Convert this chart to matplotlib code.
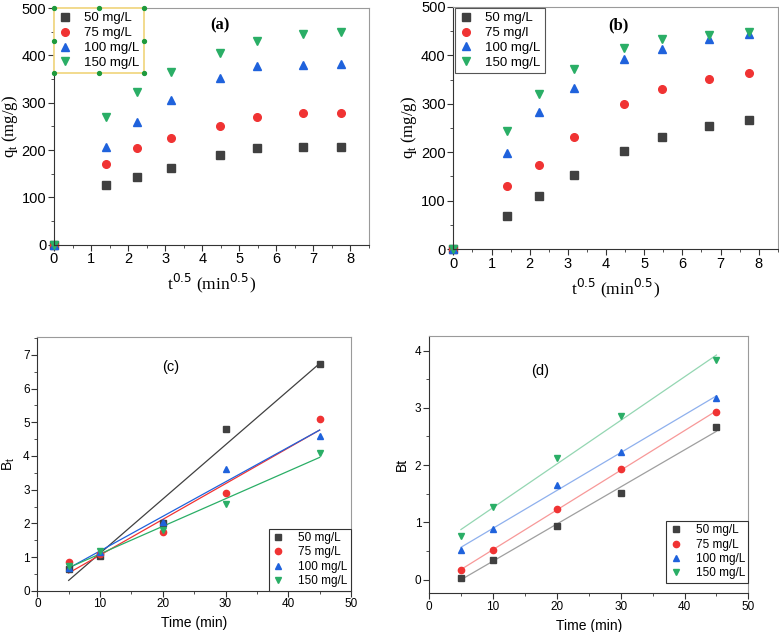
import numpy as np
import matplotlib
matplotlib.use('Agg')
from matplotlib import pyplot as plt
from matplotlib.ticker import MultipleLocator

plt.rcParams['font.family'] = ['Liberation Sans', 'DejaVu Sans']

labels = ['50 mg/L', '75 mg/L', '100 mg/L', '150 mg/L']
labels_b = ['50 mg/L', '75 mg/l', '100 mg/L', '150 mg/L']
colors = ['#404040', '#f03333', '#1f62dc', '#2aae66']
markers = ['s', 'o', '^', 'v']

# (a), (b): intraparticle diffusion, x = t^0.5
sqrt_t = [0, 1.414, 2.236, 3.162, 4.472, 5.477, 6.708, 7.746]
qa_50 = [0, 125, 143, 161, 190, 205, 206, 207]
qa_75 = [0, 171, 205, 225, 250, 270, 278, 279]
qa_100 = [0, 206, 260, 306, 353, 377, 380, 383]
qa_150 = [0, 270, 323, 366, 405, 430, 445, 450]

qb_50 = [0, 69, 110, 152, 203, 231, 255, 266]
qb_75 = [0, 131, 174, 231, 299, 331, 352, 363]
qb_100 = [0, 198, 282, 332, 393, 414, 433, 445]
qb_150 = [0, 244, 321, 371, 416, 433, 442, 448]

# (c), (d): Boyd plot, Bt vs time
time_min = [5, 10, 20, 30, 45]
bc_50 = [0.65, 1.04, 2.0, 4.79, 6.74]
bc_75 = [0.84, 1.10, 1.73, 2.89, 5.09]
bc_100 = [0.66, 1.15, 2.04, 3.61, 4.60]
bc_150 = [0.74, 1.18, 1.80, 2.57, 4.09]

bd_50 = [0.035, 0.34, 0.94, 1.52, 2.66]
bd_75 = [0.16, 0.52, 1.23, 1.93, 2.93]
bd_100 = [0.51, 0.88, 1.66, 2.22, 3.17]
bd_150 = [0.77, 1.26, 2.13, 2.86, 3.83]

fig = plt.figure(figsize=(7.79, 6.32), dpi=100)
ax_a = fig.add_axes([0.0693, 0.613, 0.4044, 0.374])
ax_b = fig.add_axes([0.582, 0.606, 0.4164, 0.383])
ax_c = fig.add_axes([0.0479, 0.0653, 0.4027, 0.4019])
ax_d = fig.add_axes([0.5507, 0.0612, 0.41, 0.4076])


def style_axes(ax, tick_size):
    for side in ['top', 'right']:
        ax.spines[side].set_color('#9a9a9a')
    for side in ['left', 'bottom']:
        ax.spines[side].set_color('#333333')
    ax.tick_params(which='both', direction='out', top=False, right=False,
                   labelsize=tick_size, color='#333333', pad=1.5)
    ax.tick_params(which='major', length=4)
    ax.tick_params(which='minor', length=2.5)


# top panels
for ax, series, labs, tag, tag_pos in [
        (ax_a, [qa_50, qa_75, qa_100, qa_150], labels, '(a)', (0.527, 0.928)),
        (ax_b, [qb_50, qb_75, qb_100, qb_150], labels_b, '(b)', (0.509, 0.925))]:
    for q, c, m, lab in zip(series, colors, markers, labs):
        ax.plot(sqrt_t, q, m, color=c, markersize=5.5, linestyle='none', label=lab,
                clip_on=False)
    ax.set_xlim(0, 8.5)
    ax.set_ylim(0, 500)
    ax.xaxis.set_major_locator(MultipleLocator(1))
    ax.xaxis.set_minor_locator(MultipleLocator(0.5))
    ax.yaxis.set_major_locator(MultipleLocator(100))
    ax.yaxis.set_minor_locator(MultipleLocator(50))
    style_axes(ax, 10.5)
    ax.set_xlabel('t$^{0.5}$ (min$^{0.5}$)', family='Liberation Serif', fontsize=12.5)
    ax.set_ylabel('q$_{\\mathregular{t}}$ (mg/g)', family='Liberation Serif', fontsize=12,
                  labelpad=1.5)
    ax.text(tag_pos[0], tag_pos[1], tag, transform=ax.transAxes, ha='center', va='center',
            family='Liberation Serif', fontweight='bold', fontsize=12)

leg_a = ax_a.legend(loc='upper left', bbox_to_anchor=(0, 1), borderaxespad=0,
                    fontsize=9.5, handlelength=1, handletextpad=1.0, labelspacing=0.2,
                    fancybox=False, edgecolor='#f0d47a', framealpha=1, borderpad=0.3)
leg_a.get_frame().set_linewidth(1.2)
leg_b = ax_b.legend(loc='upper left', bbox_to_anchor=(0.005, 0.995), borderaxespad=0,
                    fontsize=9.5, handlelength=1, handletextpad=1.0, labelspacing=0.2,
                    fancybox=False, edgecolor='#555555', framealpha=1, borderpad=0.3)
leg_b.get_frame().set_linewidth(0.8)

# bottom panels
for ax, series, line_alpha, ylab, tag, tag_pos in [
        (ax_c, [bc_50, bc_75, bc_100, bc_150], 1.0, 'B$_{\\mathregular{t}}$', '(c)', (0.426, 0.88)),
        (ax_d, [bd_50, bd_75, bd_100, bd_150], 0.5, 'Bt', '(d)', (0.348, 0.864))]:
    for b, c, m, lab in zip(series, colors, markers, labels):
        slope, icpt = np.polyfit(time_min, b, 1)
        xs = np.array([time_min[0], time_min[-1]])
        ax.plot(xs, icpt + slope * xs, '-', color=c, linewidth=0.9, alpha=line_alpha)
    for b, c, m, lab in zip(series, colors, markers, labels):
        ax.plot(time_min, b, m, color=c, markersize=4.5, linestyle='none', label=lab)
    ax.set_xlim(0, 50)
    ax.xaxis.set_major_locator(MultipleLocator(10))
    ax.xaxis.set_minor_locator(MultipleLocator(5))
    ax.yaxis.set_major_locator(MultipleLocator(1))
    ax.yaxis.set_minor_locator(MultipleLocator(0.5))
    style_axes(ax, 8.5)
    ax.set_xlabel('Time (min)', fontsize=10)
    ax.set_ylabel(ylab, fontsize=10)
    ax.text(tag_pos[0], tag_pos[1], tag, transform=ax.transAxes, ha='center',
            va='center', fontsize=10.5)

ax_c.set_ylim(0, 7.54)
ax_d.set_ylim(-0.24, 4.26)

ax_c.legend(loc='lower right', bbox_to_anchor=(1, 0), borderaxespad=0, fontsize=8.5,
            handlelength=1, handletextpad=1.2, labelspacing=0.2, fancybox=False,
            edgecolor='#333333', framealpha=1, borderpad=0.3).get_frame().set_linewidth(0.8)
ax_d.legend(loc='lower right', bbox_to_anchor=(1, 0.04), borderaxespad=0, fontsize=8.5,
            handlelength=1, handletextpad=1.2, labelspacing=0.2, fancybox=False,
            edgecolor='#333333', framealpha=1, borderpad=0.3).get_frame().set_linewidth(0.8)

# selection handles around legend (a)
fig.canvas.draw()
bb = leg_a.get_window_extent().transformed(fig.transFigure.inverted())
hx = [bb.x0, (bb.x0 + bb.x1) / 2, bb.x1]
hy = [bb.y0, (bb.y0 + bb.y1) / 2, bb.y1]
pts = [(x, y) for x in hx for y in hy if not (x == hx[1] and y == hy[1])]
fig.add_artist(plt.Line2D([p[0] for p in pts], [p[1] for p in pts], marker='o',
                          linestyle='none', markersize=2.8, color='#1e9a3c',
                          transform=fig.transFigure))

fig.savefig('out.png', dpi=100)
